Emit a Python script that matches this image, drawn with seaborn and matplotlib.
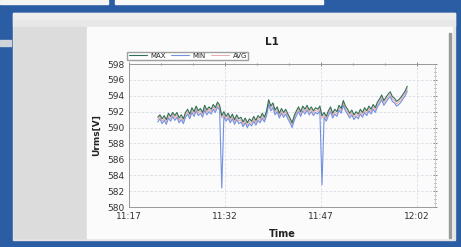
import matplotlib
matplotlib.use('Agg')
import matplotlib.pyplot as plt
import matplotlib.dates as mdates
import matplotlib.ticker as ticker
from matplotlib.patches import Rectangle
import seaborn as sns
import pandas as pd

# one sample every 20 s, 11:21:30 .. 12:00:30
start = '2020-01-01 11:21:30'
avg_vals = [591.0, 591.4, 590.8, 591.2, 590.7, 591.5, 591.1, 591.7, 591.2, 591.6,
            590.9, 591.3, 590.8, 591.6, 592.0, 591.4, 592.2, 591.7, 592.4, 591.8,
            592.1, 591.6, 592.5, 591.9, 592.3, 592.0, 592.6, 592.2, 592.9, 592.5,
            591.2, 591.7, 591.1, 591.5, 590.9, 591.4, 590.7, 591.3, 590.8, 591.0,
            590.4, 590.9, 590.3, 590.8, 590.5, 591.1, 590.6, 591.2, 590.9, 591.5,
            591.0, 591.8, 593.2, 592.4, 592.8, 591.9, 592.3, 591.5, 592.1, 591.6,
            592.0, 591.4, 590.9, 590.3, 591.2, 591.8, 592.3, 591.7, 592.4, 592.0,
            592.5, 591.9, 592.3, 591.8, 592.2, 592.0, 592.4, 591.2, 591.6, 591.1,
            591.8, 592.3, 591.5, 592.0, 591.7, 592.5, 592.1, 593.1, 592.4, 592.0,
            591.5, 591.9, 591.3, 591.7, 591.4, 592.0, 591.6, 592.2, 591.8, 592.4,
            592.0, 592.6, 592.2, 592.9, 593.3, 593.8, 593.1, 593.5, 593.9, 594.2,
            593.6, 593.4, 593.0, 593.2, 593.5, 593.9, 594.3, 594.9]
max_vals = [591.3, 591.6, 591.1, 591.5, 591.0, 591.8, 591.4, 591.9, 591.5, 591.9,
            591.2, 591.6, 591.1, 591.9, 592.3, 591.7, 592.5, 592.0, 592.7, 592.1,
            592.4, 591.9, 592.8, 592.2, 592.6, 592.3, 592.9, 592.5, 593.2, 592.8,
            591.5, 592.0, 591.4, 591.8, 591.2, 591.7, 591.0, 591.6, 591.1, 591.3,
            590.7, 591.2, 590.6, 591.1, 590.8, 591.4, 590.9, 591.5, 591.2, 591.8,
            591.3, 592.1, 593.5, 592.7, 593.1, 592.2, 592.6, 591.8, 592.4, 591.9,
            592.3, 591.7, 591.2, 590.6, 591.5, 592.1, 592.6, 592.0, 592.7, 592.3,
            592.8, 592.2, 592.6, 592.1, 592.5, 592.3, 592.7, 591.5, 591.9, 591.4,
            592.1, 592.6, 591.8, 592.3, 592.0, 592.8, 592.4, 593.4, 592.7, 592.3,
            591.8, 592.2, 591.6, 592.0, 591.7, 592.3, 591.9, 592.5, 592.1, 592.7,
            592.3, 592.9, 592.5, 593.2, 593.6, 594.1, 593.4, 593.8, 594.2, 594.5,
            593.9, 593.7, 593.3, 593.5, 593.8, 594.2, 594.6, 595.2]
min_vals = [590.7, 591.1, 590.5, 590.9, 590.4, 591.2, 590.8, 591.4, 590.9, 591.3,
            590.6, 591.0, 590.5, 591.3, 591.7, 591.1, 591.9, 591.4, 592.1, 591.5,
            591.8, 591.3, 592.2, 591.6, 592.0, 591.7, 592.3, 591.9, 592.6, 592.2,
            582.4, 591.4, 590.8, 591.2, 590.6, 591.1, 590.4, 591.0, 590.5, 590.7,
            590.1, 590.6, 590.0, 590.5, 590.2, 590.8, 590.3, 590.9, 590.6, 591.2,
            590.7, 591.5, 592.9, 592.1, 592.5, 591.6, 592.0, 591.2, 591.8, 591.3,
            591.7, 591.1, 590.6, 590.0, 590.9, 591.5, 592.0, 591.4, 592.1, 591.7,
            592.2, 591.6, 592.0, 591.5, 591.9, 591.7, 592.1, 582.8, 591.3, 590.8,
            591.5, 592.0, 591.2, 591.7, 591.4, 592.2, 591.8, 592.8, 592.1, 591.7,
            591.2, 591.6, 591.0, 591.4, 591.1, 591.7, 591.3, 591.9, 591.5, 592.1,
            591.7, 592.3, 591.9, 592.6, 593.0, 593.5, 592.8, 593.2, 593.6, 593.9,
            593.3, 593.1, 592.7, 592.9, 593.2, 593.6, 594.0, 594.6]
y_ticks = [580, 582, 584, 586, 588, 590, 592, 594, 596, 598]

times = pd.date_range(start, periods=len(avg_vals), freq='20s')
df = pd.DataFrame({'Time': times, 'MAX': max_vals, 'MIN': min_vals, 'AVG': avg_vals})

W, H = 461, 247
blue = '#2b5da4'


def px(x0, y0, x1, y1):
	# pixel box -> figure fraction rectangle args
	return (x0 / W, 1 - y1 / H), (x1 - x0) / W, (y1 - y0) / H


def main():
	sns.set_style('white')
	plt.rcParams['font.family'] = ['DejaVu Sans']
	fig = plt.figure(figsize=(W / 100, H / 100), dpi=100)
	fig.patch.set_facecolor(blue)

	# window chrome
	for box, col in [((0, 0, 108, 4), '#f4f4f4'), ((115, 0, 323, 4), '#f7f7f7'),
					 ((0, 40, 11, 46), '#cfd4db'),
					 ((13, 13, 455, 240), '#e4e4e4'), ((13, 13, 455, 20), '#ededed'),
					 ((13, 20, 455, 26), '#e8e8e8'),
					 ((14, 27, 87, 238), '#dcdcdc'), ((87, 27, 452, 238), '#fbfbfb'),
					 ((449, 33, 451, 238), '#9a9a9a')]:
		xy, w, h = px(*box)
		fig.patches.append(Rectangle(xy, w, h, transform=fig.transFigure, color=col, zorder=-5))

	ax = fig.add_axes([129 / W, 1 - 207 / H, 306 / W, 143 / H])
	ax.set_zorder(2)
	ax.set_facecolor('#fbfbfb')

	sns.lineplot(data=df, x='Time', y='AVG', ax=ax, color='#e8a8a8', lw=0.7, label='AVG')
	sns.lineplot(data=df, x='Time', y='MIN', ax=ax, color='#7391e0', lw=0.8, label='MIN')
	sns.lineplot(data=df, x='Time', y='MAX', ax=ax, color='#2f6f55', lw=0.8, label='MAX')

	ax.set_ylim(580, 598)
	ax.set_yticks(y_ticks)
	ax.yaxis.set_minor_locator(ticker.AutoMinorLocator(4))
	ax.set_xlim(pd.Timestamp('2020-01-01 11:17:00'), pd.Timestamp('2020-01-01 12:04:50'))
	ax.xaxis.set_major_locator(mdates.MinuteLocator(byminute=[2, 17, 32, 47]))
	ax.xaxis.set_minor_locator(mdates.MinuteLocator(byminute=range(2, 60, 5)))
	ax.xaxis.set_major_formatter(mdates.DateFormatter('%H:%M'))

	ax.grid(True, which='major', color='#d9dde6', lw=0.6, ls=(0, (3, 2)))
	ax.tick_params(which='both', direction='inout', top=True, right=True, colors='#777',
				   labelcolor='#333', labelsize=6.5, length=3, width=0.6, pad=2)
	ax.tick_params(which='minor', length=2)
	for s in ax.spines.values():
		s.set_color('#999')
		s.set_linewidth(0.7)
	ax.spines['right'].set_color('#cfcfcf')

	ax.set_xlabel('Time', fontsize=7, fontweight='bold', color='#222', labelpad=6)
	ax.set_ylabel('Urms[V]', fontsize=6.5, fontweight='bold', color='#222', labelpad=4)
	fig.text(272 / W, 1 - 42 / H, 'L1', fontsize=7.5, fontweight='bold', color='#222',
			 ha='center', va='center', zorder=3)

	h, l = ax.get_legend_handles_labels()
	order = [2, 1, 0]
	ax.legend([h[i] for i in order], [l[i] for i in order], loc='lower left',
			  bbox_to_anchor=(-0.005, 1.03), ncol=3, fontsize=5, frameon=True,
			  fancybox=False, edgecolor='#888', handlelength=2.6, columnspacing=0.8,
			  borderpad=0.15, handletextpad=0.5, borderaxespad=0)

	fig.savefig('out.png', dpi=100, facecolor=fig.get_facecolor())


if __name__ == '__main__':
	main()
